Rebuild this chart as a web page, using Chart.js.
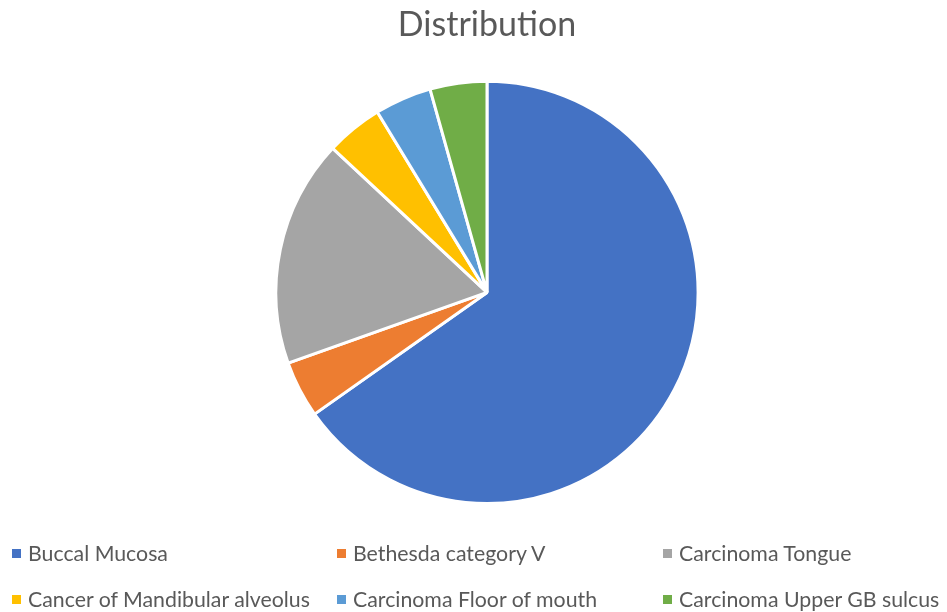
<!DOCTYPE html>
<html>
<head>
<meta charset="utf-8">
<title>Distribution</title>
<script src="https://cdn.jsdelivr.net/npm/chart.js@4.4.1/dist/chart.umd.min.js"></script>
<style>
  html, body { margin: 0; padding: 0; background: #fff; }
  #wrap { position: relative; width: 947px; height: 612px; overflow: hidden; }
  #legend {
    position: absolute; left: 12px; top: 530px;
    display: grid; grid-template-columns: 325px 326px 290px;
    font-family: Lato, "Open Sans", sans-serif; font-size: 21.3px; color: #595959;
  }
  .item { display: flex; align-items: center; height: 46px; white-space: nowrap; }
  .swatch { width: 9px; height: 9px; margin-right: 7px; flex: none; }
</style>
</head>
<body>
<div id="wrap">
  <canvas id="pie" width="947" height="612"></canvas>
  <div id="legend"></div>
</div>
<script>
// Site counts
const categories = [
  'Buccal Mucosa',
  'Bethesda category V',
  'Carcinoma Tongue',
  'Cancer of Mandibular alveolus',
  'Carcinoma Floor of mouth',
  'Carcinoma Upper GB sulcus',
];
const counts = [15, 1, 4, 1, 1, 1];
const colors = ['#4472C4', '#ED7D31', '#A5A5A5', '#FFC000', '#5B9BD5', '#70AD47'];

const canvas = document.getElementById('pie');
canvas.style.width = '947px';
canvas.style.height = '612px';

const chart = new Chart(canvas.getContext('2d'), {
  type: 'pie',
  data: {
    labels: categories,
    datasets: [
      {
        data: counts,
        backgroundColor: colors,
        borderColor: '#FFFFFF',
        borderWidth: 3,
      },
    ],
  },
  options: {
    responsive: false,
    animation: false,
    layout: { padding: { left: 27, top: 0, right: 0, bottom: 107 } },
    plugins: {
      legend: { display: false },
      tooltip: { enabled: false },
      title: {
        display: true,
        text: 'Distribution',
        color: '#595959',
        font: { family: 'Lato, "Open Sans", sans-serif', size: 34, weight: 'normal' },
        padding: { top: 5, bottom: 34 },
      },
    },
  },
});

// Build the legend grid from the chart's own legend items
const legend = document.getElementById('legend');
chart.options.plugins.legend.labels.generateLabels(chart).forEach((item) => {
  const row = document.createElement('div');
  row.className = 'item';
  const box = document.createElement('span');
  box.className = 'swatch';
  box.style.background = item.fillStyle;
  const label = document.createElement('span');
  label.textContent = item.text;
  row.appendChild(box);
  row.appendChild(label);
  legend.appendChild(row);
});
</script>
</body>
</html>
